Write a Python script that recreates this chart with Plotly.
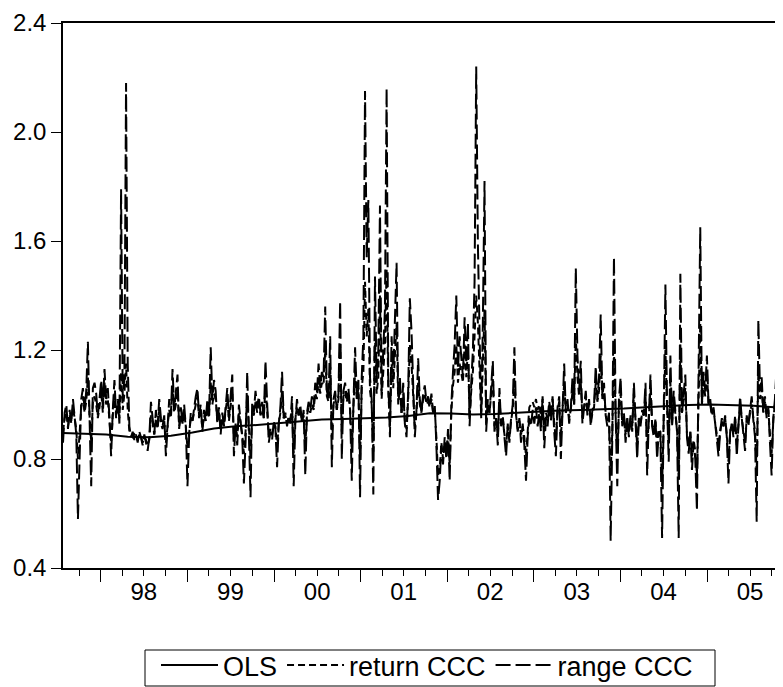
import pandas as pd
import plotly.graph_objects as go

# ---------------- data ----------------
START_DATE = "1997-07-25"   # first weekly observation

RANGE_CCC = [
    0.86, 0.97, 1.00, 0.91, 0.98, 0.93, 1.02, 0.96, 0.89, 0.58,
    0.85, 1.02, 1.06, 0.98, 1.05, 1.23, 0.95, 0.70, 1.06, 1.08,
    1.04, 0.96, 1.02, 1.09, 0.99, 1.13, 1.02, 1.06, 0.95, 0.81,
    0.98, 1.09, 0.96, 1.02, 0.93, 1.79, 1.02, 1.10, 2.18, 1.15,
    0.92, 0.88, 0.90, 0.87, 0.89, 0.86, 0.90, 0.88, 0.85, 0.89,
    0.86, 0.83, 0.88, 1.01, 0.95, 0.89, 0.98, 0.92, 1.02, 0.95,
    0.92, 0.96, 0.81, 0.93, 1.02, 0.96, 1.13, 0.98, 1.04, 1.11,
    0.91, 0.99, 0.93, 1.00, 0.92, 0.70, 0.88, 0.97, 0.94, 0.99,
    1.03, 1.06, 0.96, 1.00, 0.90, 0.98, 0.94, 1.02, 0.96, 1.21,
    1.02, 1.09, 1.05, 0.93, 0.99, 0.89, 0.97, 0.92, 1.00, 1.06,
    0.95, 1.03, 1.11, 0.81, 0.93, 0.85, 1.00, 0.94, 0.88, 0.71,
    0.86, 1.12, 0.92, 0.66, 1.01, 0.97, 1.05, 0.99, 1.03, 0.97,
    1.01, 0.95, 1.16, 0.98, 0.86, 0.90, 0.87, 0.94, 0.91, 0.77,
    0.93, 0.99, 1.12, 0.95, 0.97, 0.92, 0.96, 0.93, 1.03, 0.70,
    0.94, 1.02, 0.96, 1.00, 0.93, 0.98, 0.74, 0.97, 1.01, 0.98,
    1.03, 0.99, 1.08, 1.04, 1.15, 1.06, 1.12, 1.10, 1.36, 1.05,
    1.02, 1.25, 0.77, 1.02, 1.05, 0.98, 1.04, 1.38, 0.80, 1.05,
    1.08, 1.02, 1.06, 0.98, 0.72, 1.00, 1.21, 1.04, 1.09, 0.66,
    1.10, 1.25, 2.15, 1.54, 1.75, 1.10, 1.02, 0.67, 1.47, 1.08,
    1.20, 1.73, 1.05, 1.20, 1.35, 2.16, 1.10, 0.88, 1.25, 1.10,
    1.30, 1.52, 1.02, 1.10, 0.96, 1.08, 0.93, 0.88, 1.05, 1.39,
    1.27, 1.08, 0.88, 0.98, 1.17, 1.02, 0.97, 1.04, 1.07, 1.01,
    1.03, 0.99, 1.04, 0.97, 1.00, 0.85, 0.65, 0.72, 0.85, 0.78,
    0.88, 0.80, 0.91, 0.72, 1.00, 1.12, 1.22, 1.40, 1.13, 1.25,
    1.18, 1.10, 1.32, 1.15, 1.30, 0.92, 1.08, 1.20, 1.45, 2.24,
    1.59, 1.20, 0.95, 1.30, 1.82, 0.90, 1.02, 0.97, 1.05, 1.16,
    0.90, 0.95, 0.85, 1.06, 0.92, 0.96, 0.88, 0.81, 0.93, 0.86,
    0.95, 1.00, 1.21, 0.97, 0.90, 0.95, 0.86, 0.93, 0.85, 0.72,
    0.88, 0.95, 0.92, 0.98, 0.93, 0.99, 0.92, 0.97, 0.90, 1.03,
    0.84, 0.95, 0.92, 1.00, 0.94, 1.03, 0.90, 0.81, 0.99, 1.03,
    0.80, 0.98, 1.15, 0.97, 1.02, 0.93, 0.99, 1.10, 1.00, 1.50,
    1.18, 1.05, 1.16, 0.93, 1.00, 1.05, 0.96, 1.02, 0.92, 0.98,
    1.00, 1.14, 1.02, 1.10, 1.33, 1.03, 1.08, 0.96, 0.92, 0.97,
    0.50, 0.88, 1.54, 0.97, 0.70, 1.02, 1.10, 0.92, 0.97, 0.86,
    0.95, 0.88, 0.96, 0.90, 1.08, 0.93, 0.80, 0.95, 0.92, 0.98,
    0.96, 1.08, 0.74, 0.95, 1.11, 0.92, 0.88, 0.95, 0.80, 0.90,
    0.88, 0.51, 1.00, 1.44, 1.00, 0.79, 1.18, 0.92, 1.05, 0.98,
    0.90, 0.51, 1.48, 0.97, 1.04, 1.11, 0.88, 0.82, 0.90, 0.76,
    0.86, 0.80, 0.61, 1.05, 1.65, 1.00, 1.12, 1.05, 1.18, 1.00,
    1.02, 0.96, 0.99, 0.93, 0.88, 0.81, 0.90, 0.95, 0.92, 0.96,
    0.88, 0.71, 0.90, 0.93, 0.88, 0.96, 0.81, 0.92, 1.03, 0.95,
    0.90, 0.83, 0.96, 0.92, 0.98, 1.03, 0.94, 0.88, 0.57, 1.31,
    1.05, 1.10, 0.97, 1.03, 0.95, 0.99, 0.86, 0.74, 0.95, 1.02,
    1.14, 0.98, 1.06, 0.56, 1.36,
]

RETURN_CCC = [
    0.90, 0.95, 0.97, 0.92, 0.96, 0.94, 0.99, 0.95, 0.91, 0.80,
    0.92, 0.99, 1.03, 0.97, 1.01, 1.10, 0.96, 0.86, 1.01, 1.03,
    1.00, 0.95, 0.99, 1.05, 0.97, 1.08, 1.00, 1.02, 0.94, 0.86,
    0.96, 1.04, 0.95, 0.99, 0.95, 1.12, 0.98, 1.04, 1.15, 0.98,
    0.90, 0.89, 0.88, 0.89, 0.88, 0.87, 0.89, 0.88, 0.86, 0.88,
    0.87, 0.85, 0.87, 0.96, 0.93, 0.89, 0.95, 0.91, 0.98, 0.93,
    0.91, 0.94, 0.86, 0.92, 0.98, 0.95, 1.06, 0.97, 1.00, 1.05,
    0.92, 0.96, 0.93, 0.97, 0.92, 0.84, 0.90, 0.95, 0.94, 0.97,
    1.00, 1.03, 0.95, 0.98, 0.91, 0.96, 0.94, 0.99, 0.95, 1.08,
    1.00, 1.04, 1.02, 0.94, 0.97, 0.91, 0.95, 0.92, 0.98, 1.02,
    0.94, 1.00, 1.05, 0.87, 0.92, 0.88, 0.97, 0.93, 0.89, 0.82,
    0.90, 1.04, 0.93, 0.80, 0.97, 0.96, 1.01, 0.97, 1.00, 0.96,
    0.98, 0.95, 1.07, 0.96, 0.89, 0.91, 0.89, 0.93, 0.92, 0.84,
    0.93, 0.97, 1.05, 0.95, 0.96, 0.93, 0.95, 0.94, 0.99, 0.82,
    0.95, 0.99, 0.96, 0.98, 0.94, 0.96, 0.85, 0.96, 0.99, 0.97,
    1.00, 0.98, 1.04, 1.02, 1.09, 1.04, 1.08, 1.07, 1.20, 1.03,
    1.01, 1.14, 0.88, 1.00, 1.03, 0.98, 1.02, 1.22, 0.90, 1.03,
    1.05, 1.01, 1.04, 0.98, 0.83, 0.99, 1.12, 1.02, 1.06, 0.80,
    1.06, 1.12, 1.45, 1.25, 1.35, 1.05, 1.00, 0.82, 1.25, 1.04,
    1.10, 1.40, 1.02, 1.12, 1.22, 1.50, 1.05, 0.92, 1.15, 1.06,
    1.18, 1.30, 1.00, 1.06, 0.97, 1.04, 0.94, 0.91, 1.02, 1.22,
    1.15, 1.04, 0.92, 0.97, 1.08, 1.00, 0.97, 1.02, 1.04, 1.00,
    1.01, 0.99, 1.02, 0.97, 0.98, 0.88, 0.74, 0.76, 0.86, 0.80,
    0.86, 0.81, 0.89, 0.78, 0.97, 1.07, 1.12, 1.22, 1.08, 1.15,
    1.12, 1.08, 1.22, 1.10, 1.20, 0.95, 1.05, 1.12, 1.25, 1.40,
    1.30, 1.10, 0.96, 1.15, 1.35, 0.93, 1.00, 0.97, 1.03, 1.10,
    0.92, 0.95, 0.88, 1.02, 0.93, 0.95, 0.89, 0.85, 0.92, 0.88,
    0.94, 0.98, 1.10, 0.96, 0.91, 0.94, 0.89, 0.92, 0.88, 0.81,
    0.90, 0.99, 1.00, 1.01, 0.99, 1.02, 0.98, 1.00, 0.96, 1.02,
    0.90, 0.97, 0.95, 1.01, 0.97, 1.02, 0.93, 0.87, 0.98, 1.01,
    0.88, 0.98, 1.08, 0.97, 1.00, 0.95, 0.98, 1.05, 1.00, 1.25,
    1.10, 1.03, 1.08, 0.95, 0.99, 1.03, 0.97, 1.00, 0.94, 0.97,
    0.99, 1.08, 1.01, 1.05, 1.18, 1.02, 1.04, 0.97, 0.94, 0.96,
    0.75, 0.90, 1.20, 0.96, 0.82, 0.99, 1.04, 0.93, 0.96, 0.89,
    0.95, 0.90, 0.95, 0.92, 1.04, 0.94, 0.85, 0.95, 0.93, 0.97,
    0.96, 1.03, 0.84, 0.95, 1.06, 0.93, 0.90, 0.94, 0.85, 0.91,
    0.90, 0.70, 0.97, 1.20, 0.99, 0.86, 1.08, 0.93, 1.02, 0.97,
    0.91, 0.72, 1.22, 0.97, 1.02, 1.06, 0.89, 0.85, 0.90, 0.81,
    0.87, 0.83, 0.74, 1.02, 1.30, 1.00, 1.08, 1.03, 1.12, 1.00,
    1.00, 0.96, 0.98, 0.93, 0.89, 0.85, 0.90, 0.94, 0.92, 0.95,
    0.89, 0.79, 0.90, 0.93, 0.89, 0.95, 0.85, 0.92, 1.00, 0.95,
    0.91, 0.86, 0.95, 0.93, 0.97, 1.00, 0.95, 0.90, 0.75, 1.12,
    1.02, 1.06, 0.97, 1.01, 0.96, 0.98, 0.89, 0.82, 0.94, 1.00,
    1.08, 0.97, 1.03, 0.78, 1.15,
]

# OLS fitted line, one value per 13 weeks (plus the last week)
OLS = [
    0.895, 0.893, 0.890, 0.882, 0.880, 0.885, 0.897, 0.912, 0.920, 0.925,
    0.932, 0.940, 0.945, 0.947, 0.950, 0.952, 0.958, 0.968, 0.967, 0.963,
    0.965, 0.970, 0.975, 0.978, 0.980, 0.982, 0.985, 0.990, 0.995, 0.998,
    1.000, 0.998, 0.995, 0.990, 0.988,
]

YEAR_LABELS = ["98", "99", "00", "01", "02", "03", "04", "05"]
Y_TICKS = [0.4, 0.8, 1.2, 1.6, 2.0, 2.4]

# ---------------- build ----------------
dates = pd.date_range(START_DATE, periods=len(RANGE_CCC), freq="7D")
ols_idx = list(range(0, 430, 13)) + [len(RANGE_CCC) - 1]
ols_dates = dates[ols_idx]

years = [1998 + i for i in range(len(YEAR_LABELS))]
quarter_vals, quarter_text = ["1997-10-01"], [""]
for y, lab in zip(years, YEAR_LABELS):
    for m, t in (("04", ""), ("07", lab), ("10", "")):
        quarter_vals.append(f"{y}-{m}-01")
        quarter_text.append(t)
year_vals = [f"{y}-01-01" for y in years] + ["2006-01-01"]

FONT = "Liberation Sans, Arial, sans-serif"
fig = go.Figure()
fig.add_trace(go.Scatter(x=ols_dates, y=OLS, mode="lines", name="OLS",
                         line=dict(color="black", width=2), xaxis="x2"))
fig.add_trace(go.Scatter(x=dates, y=RETURN_CCC, mode="lines", name="return CCC",
                         line=dict(color="black", width=2, dash="7px,4px")))
fig.add_trace(go.Scatter(x=dates, y=RANGE_CCC, mode="lines", name="range CCC",
                         line=dict(color="black", width=2, dash="15px,5px")))

# page body has an 8px margin: figure is 775x679 placed at (8, 8)
W, H = 775, 679
PLOT_L, PLOT_T, PLOT_B = 55, 15, 119   # plot area: x 63..783, y 23..568 on the page
x_range = ["1997-07-25", "2005-11-17"]
plot_w = W - PLOT_L
plot_h = H - PLOT_T - PLOT_B


def page_to_paper(px, py):
    return ((px - 8) - PLOT_L) / plot_w, ((PLOT_T + plot_h) - (py - 8)) / plot_h


legend_x, legend_y = page_to_paper(427, 641)
box_x0, box_y0 = page_to_paper(145, 686)
box_x1, box_y1 = page_to_paper(715, 650)

fig.update_layout(
    width=W, height=H,
    margin=dict(l=PLOT_L, r=0, t=PLOT_T, b=PLOT_B, autoexpand=False),
    paper_bgcolor="white", plot_bgcolor="white",
    font=dict(family=FONT, size=24, color="black"),
    showlegend=True,
    legend=dict(orientation="h", x=legend_x, xanchor="center", y=legend_y, yanchor="top",
                borderwidth=0, font=dict(size=27),
                bgcolor="rgba(0,0,0,0)", itemwidth=57),
    shapes=[dict(type="rect", xref="paper", yref="paper",
                 x0=box_x0, y0=box_y0, x1=box_x1, y1=box_y1,
                 line=dict(color="black", width=1), fillcolor="rgba(0,0,0,0)",
                 layer="below")],
    xaxis=dict(type="date", range=x_range, showgrid=False, zeroline=False,
               showline=True, linecolor="black", linewidth=1.5, mirror=True,
               tickmode="array", tickvals=quarter_vals, ticktext=quarter_text,
               ticks="outside", ticklen=6, tickwidth=1, tickcolor="black",
               ticklabelstandoff=-5, automargin=False),
    xaxis2=dict(type="date", overlaying="x", matches="x", anchor="y", side="bottom",
                showgrid=False, zeroline=False, showline=False,
                tickmode="array", tickvals=year_vals, showticklabels=False,
                ticks="outside", ticklen=13, tickwidth=1, tickcolor="black"),
    yaxis=dict(range=[0.4, 2.4], tickmode="array", tickvals=Y_TICKS,
               tickformat=".1f", showgrid=False, zeroline=False,
               showline=True, linecolor="black", linewidth=1.5,
               ticks="outside", ticklen=10, tickwidth=1, tickcolor="black",
               automargin=False),
)

fig.write_html("out.html")
